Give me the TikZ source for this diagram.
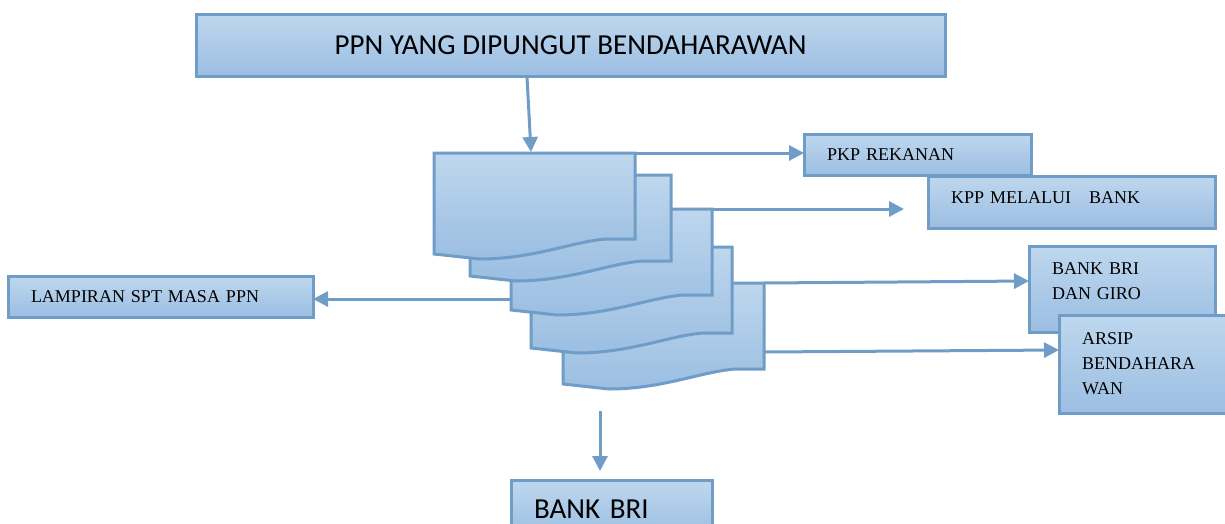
\documentclass[tikz,border=0pt]{standalone}
\usepackage{fontspec}
\setmainfont{Liberation Serif}
\newfontfamily\calibri{Carlito}
\usetikzlibrary{arrows.meta}
\definecolor{edgeblue}{RGB}{112,157,200}
\definecolor{topblue}{RGB}{190,215,238}
\definecolor{botblue}{RGB}{155,190,226}
\tikzset{
  box/.style={rectangle, draw=edgeblue, line width=3pt, top color=topblue, bottom color=botblue,
    anchor=north west, align=left, inner xsep=23pt, inner ysep=0pt, outer sep=0pt,
    font=\fontsize{18}{25}\selectfont},
  bigbox/.style={box, font=\calibri\fontsize{29}{34}\selectfont},
  link/.style={draw=edgeblue, line width=3pt, -{Triangle[length=15pt,width=15pt]}},
  docpage/.pic={
    \path[draw=edgeblue, line width=3pt, top color=topblue, bottom color=botblue]
      (0,0) -- (201,0) -- (201,86) -- (173,86)
      .. controls (140,88) and (100,106) .. (46,106) -- (0,101) -- cycle;
  }
}

\begin{document}
\begin{tikzpicture}[x=1pt,y=-1pt]
                \path[use as bounding box, clip] (0,0) rectangle (1225,523);

                \node[bigbox, anchor=center, align=center, minimum width=749pt, minimum height=62pt] (ppn) at (570.5,45) {PPN YANG DIPUNGUT BENDAHARAWAN};

                % stacked copies, back to front
                \pic at (563,283) {docpage};
                \pic at (531,247) {docpage};
                \pic at (511,209) {docpage};
                \pic at (470,175) {docpage};
                \pic at (434,153) {docpage};

                \node[box, text width=181pt, minimum height=41pt] (pkp) at (804,134) {PKP REKANAN};
                \node[box, text width=241pt, minimum height=52pt, text depth=8pt] (kpp) at (928,176) {KPP MELALUI~~~BANK};
                \node[box, text width=140pt, minimum height=86pt, text depth=40pt] (giro) at (1029,246) {BANK BRI\\DAN GIRO};
                \node[box, text width=135pt, minimum height=98pt] (arsip) at (1059,315) {ARSIP\\BENDAHARA\\WAN};
                \node[box, text width=259pt, minimum height=41pt] (spt) at (8,276) {LAMPIRAN SPT MASA PPN};
                \node[bigbox, text width=155pt, minimum height=58pt] (bri) at (511,480) {BANK BRI};

                \coordinate (ppnout) at (527,77);
                \coordinate (d1in) at (531,152);
                \coordinate (d1out) at (635,153);
                \coordinate (d3out) at (712,209);
                \coordinate (kppin) at (904,209);
                \coordinate (d5out) at (764,283);
                \coordinate (giroin) at (1029,281);
                \coordinate (d5side) at (764,352);
                \coordinate (arsipin) at (1059,350);
                \coordinate (d3left) at (511,299);
                \coordinate (stackout) at (600,411);
                \coordinate (briin) at (600,471);

                \draw[link] (ppnout) -- (d1in);
                \draw[link] (d1out) -- (d1out -| pkp.west);
                \draw[link] (d3out) -- (kppin);
                \draw[link] (d5out) -- (giroin);
                \draw[link] (d5side) -- (arsipin);
                \draw[link] (d3left) -- (d3left -| spt.east);
                \draw[link] (stackout) -- (briin);
            \end{tikzpicture}
\end{document}
